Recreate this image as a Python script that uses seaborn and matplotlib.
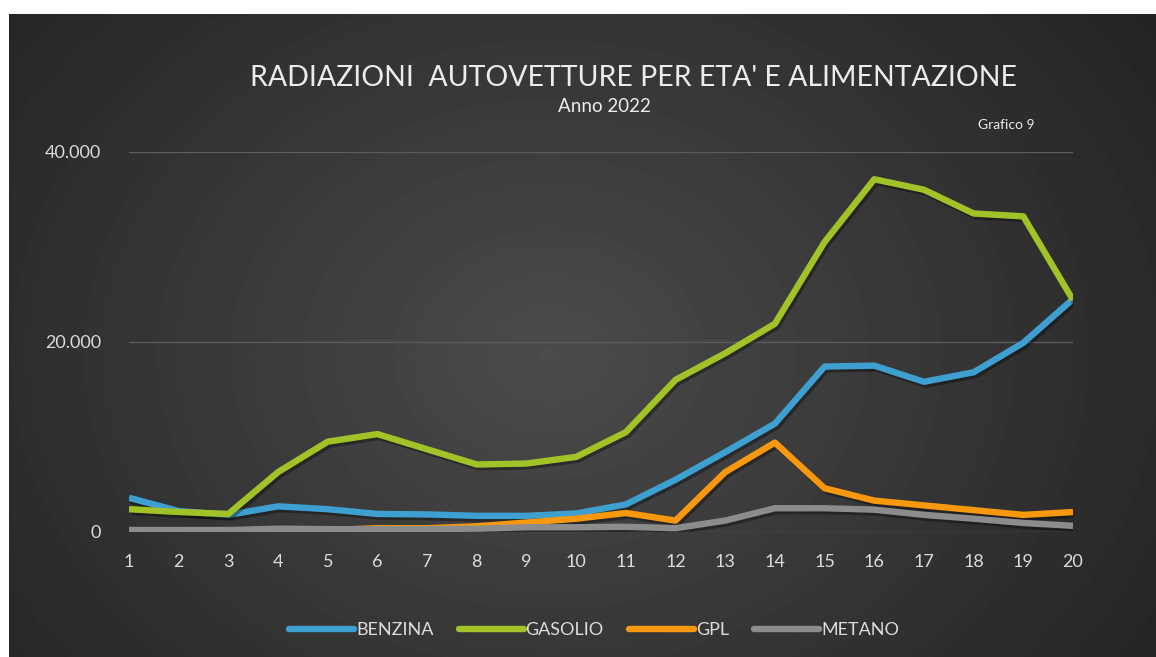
import numpy as np
import pandas as pd
import matplotlib.pyplot as plt
import matplotlib.patheffects as pe
from matplotlib.lines import Line2D
import seaborn as sns

eta = list(range(1, 21))
benzina = [3600, 2200, 1800, 2700, 2400, 1900, 1850, 1700, 1700, 1950,
           2900, 5500, 8400, 11400, 17400, 17500, 15800, 16800, 19900, 24500]
gasolio = [2400, 2100, 1900, 6300, 9500, 10300, 8700, 7100, 7200, 7900,
           10500, 16000, 18800, 21900, 30500, 37100, 36000, 33500, 33200, 24400]
gpl = [200, 200, 200, 100, 200, 400, 400, 600, 1000, 1400,
       2000, 1200, 6300, 9400, 4600, 3300, 2800, 2300, 1800, 2100]
metano = [200, 200, 200, 350, 300, 300, 300, 350, 500, 500,
          550, 400, 1200, 2500, 2500, 2350, 1800, 1400, 950, 650]

serie = ["BENZINA", "GASOLIO", "GPL", "METANO"]
colori = ["#3E9FD1", "#A2C327", "#F7980F", "#8C8C8C"]

df = pd.DataFrame({"eta": eta, "BENZINA": benzina, "GASOLIO": gasolio,
                   "GPL": gpl, "METANO": metano})
long_df = df.melt(id_vars="eta", var_name="alimentazione", value_name="radiazioni")

sns.set_style("dark")
plt.rcParams["font.family"] = ["Lato", "DejaVu Sans"]

fig = plt.figure(figsize=(11.56, 6.57), dpi=100)
fig.patch.set_facecolor("white")

# sfondo scuro con gradiente radiale
bg = fig.add_axes([9 / 1156, 0, 1 - 9 / 1156, 1 - 14 / 657])
yy, xx = np.mgrid[0:643, 0:1147]
dist = np.sqrt(((xx - 540) / 700) ** 2 + ((yy - 340) / 560) ** 2)
shade = np.clip(0.295 - 0.15 * dist, 0.13, 0.30)
bg.imshow(shade, cmap="gray", vmin=0, vmax=1, aspect="auto", interpolation="bilinear")
bg.set_axis_off()

ax = fig.add_axes([129 / 1156, 1 - 532 / 657, (1073 - 129) / 1156, (532 - 151.7) / 657])
ax.set_facecolor("none")

sns.lineplot(data=long_df, x="eta", y="radiazioni", hue="alimentazione",
             hue_order=serie, palette=colori, linewidth=4.6, ax=ax, legend=False)
for line in ax.lines:
    line.set_solid_capstyle("butt")
    line.set_path_effects([pe.SimpleLineShadow(offset=(1.5, -2), shadow_color="black", alpha=0.35),
                           pe.Normal()])

ax.set_xlim(1, 20)
ax.set_ylim(0, 40000)
ax.set_xticks(eta)
ax.set_yticks([0, 20000, 40000])
ax.set_yticklabels(["0", "20.000", "40.000"])
ax.set_xlabel("")
ax.set_ylabel("")
ax.grid(axis="y", color="#5c5c5c", linewidth=1)
ax.grid(axis="x", visible=False)
for s in ax.spines.values():
    s.set_visible(False)
ax.tick_params(axis="both", colors="#dcdcdc", labelsize=13, length=0)
ax.tick_params(axis="x", pad=16)
ax.tick_params(axis="y", pad=20)

fig.text(633 / 1156, 1 - 78 / 657, "RADIAZIONI  AUTOVETTURE PER ETA' E ALIMENTAZIONE",
         color="#ececec", fontsize=20.5, ha="center", va="center")
fig.text(604 / 1156, 1 - 107 / 657, "Anno 2022", color="#ececec", fontsize=13.5,
         ha="center", va="center")
fig.text(1006 / 1156, 1 - 125 / 657, "Grafico 9", color="#ececec", fontsize=10,
         ha="center", va="center")

handles = [Line2D([], [], color=c, linewidth=4.6) for c in colori]
fig.legend(handles, serie, loc="center", bbox_to_anchor=(594 / 1156, 1 - 630 / 657),
           ncol=4, frameon=False, handlelength=3.6, handletextpad=0.1, columnspacing=1.4,
           fontsize=13, labelcolor="#dcdcdc")

fig.savefig("out.png", dpi=100)
